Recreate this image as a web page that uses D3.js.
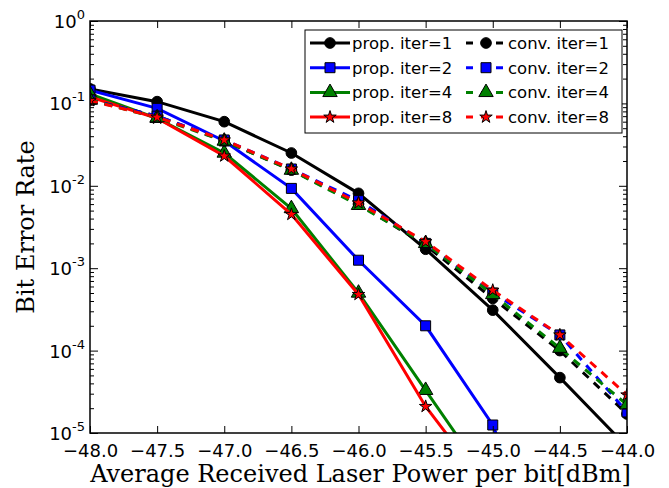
<!DOCTYPE html>
<html lang="en">
<head>
<meta charset="utf-8" />
<title>ber chart</title>
<script src="https://d3js.org/d3.v7.min.js"></script>
<style>
  body { margin: 0; background: #fff; }
  .tick-lbl { font-family: "DejaVu Sans", sans-serif; font-size: 18px; fill: #000; }
  .ax-title { font-family: "DejaVu Serif", serif; font-size: 24px; fill: #000; }
  .leg { font-family: "DejaVu Sans", sans-serif; font-size: 16.5px; fill: #000; }
</style>
</head>
<body>
<div id="myDiv"></div>
<script>
// received power (dBm)
var power = [-48, -47.5, -47, -46.5, -46, -45.5, -45, -44.5, -44];

// proposed decoder, BER per iteration count
var prop1 = [0.15, 0.105, 0.06, 0.025, 0.0081, 0.0017, 3.1e-4, 4.7e-5, 6.8e-6];
var prop2 = [0.145, 0.087, 0.035, 0.0093, 1.25e-3, 2.0e-4, 1.25e-5, 1e-7, 1e-8];
var prop4 = [0.13, 0.066, 0.025, 0.0053, 5.0e-4, 3.3e-5, 2.2e-6, 1e-7, 1e-8];
var prop8 = [0.12, 0.066, 0.023, 0.0045, 4.8e-4, 2.1e-5, 1.8e-6, 1e-7, 1e-8];

// conventional decoder
var conv1 = [0.11, 0.07, 0.035, 0.0155, 0.006, 0.0019, 4.3e-4, 1.0e-4, 1.7e-5];
var conv2 = [0.11, 0.07, 0.036, 0.016, 0.0066, 0.002, 5.0e-4, 1.55e-4, 1.8e-5];
var conv4 = [0.11, 0.067, 0.035, 0.0155, 0.0058, 0.002, 4.8e-4, 1.07e-4, 2.2e-5];
var conv8 = [0.108, 0.068, 0.036, 0.016, 0.0062, 0.0021, 5.4e-4, 1.55e-4, 2.9e-5];

var xTicks = [-48, -47.5, -47, -46.5, -46, -45.5, -45, -44.5, -44];
var yTicks = [1e-5, 1e-4, 1e-3, 1e-2, 1e-1, 1];

var series = [
  {name: "prop. iter=1", vals: prop1, color: "#000000", dash: null, mark: "circle"},
  {name: "prop. iter=2", vals: prop2, color: "#0000ff", dash: null, mark: "square"},
  {name: "prop. iter=4", vals: prop4, color: "#008000", dash: null, mark: "triangle"},
  {name: "prop. iter=8", vals: prop8, color: "#ff0000", dash: null, mark: "star"},
  {name: "conv. iter=1", vals: conv1, color: "#000000", dash: "8,7", mark: "circle"},
  {name: "conv. iter=2", vals: conv2, color: "#0000ff", dash: "8,7", mark: "square"},
  {name: "conv. iter=4", vals: conv4, color: "#008000", dash: "8,7", mark: "triangle"},
  {name: "conv. iter=8", vals: conv8, color: "#ff0000", dash: "8,7", mark: "star"}
];

var W = 669, H = 488;
// plot box (window.top is taken, so use pTop etc.)
var pLeft = 90, pRight = 627, pTop = 21, pBottom = 433;

var xScale = d3.scaleLinear().domain([-48, -44]).range([pLeft, pRight]);
var yScale = d3.scaleLog().domain([1e-5, 1]).range([pBottom, pTop]);

var svg = d3.select("#myDiv").append("svg")
    .attr("width", W)
    .attr("height", H);

svg.append("defs").append("clipPath").attr("id", "plotClip")
  .append("rect")
    .attr("x", pLeft).attr("y", pTop)
    .attr("width", pRight - pLeft).attr("height", pBottom - pTop);

// marker shapes
function symbolFor(m) {
  if (m == "circle") return d3.symbol().type(d3.symbolCircle).size(90)();
  if (m == "square") return d3.symbol().type(d3.symbolSquare).size(100)();
  if (m == "triangle") return d3.symbol().type(d3.symbolTriangle).size(90)();
  return d3.symbol().type(d3.symbolStar).size(48)();
}

var line = d3.line()
    .x(function(d, i){ return xScale(power[i]); })
    .y(function(d){ return yScale(d); });

var plot = svg.append("g").attr("clip-path", "url(#plotClip)");

series.forEach(function(s){
  var g = plot.append("g");
  g.append("path")
      .attr("d", line(s.vals))
      .attr("fill", "none")
      .attr("stroke", s.color)
      .attr("stroke-width", 3)
      .attr("stroke-dasharray", s.dash);
  g.selectAll("path.mk")
      .data(s.vals)
      .enter()
      .append("path")
      .attr("class", "mk")
      .attr("d", symbolFor(s.mark))
      .attr("transform", function(d, i){
        return "translate(" + xScale(power[i]) + "," + yScale(d) + ")";
      })
      .attr("fill", s.color)
      .attr("stroke", "#000")
      .attr("stroke-width", 1);
});

// frame
svg.append("rect")
    .attr("x", pLeft).attr("y", pTop)
    .attr("width", pRight - pLeft).attr("height", pBottom - pTop)
    .attr("fill", "none")
    .attr("stroke", "#000")
    .attr("stroke-width", 1.5);

// x axis: inward ticks top and bottom
var xAxisB = d3.axisBottom(xScale).tickValues(xTicks).tickSize(-7).tickPadding(11)
    .tickFormat(function(d){ return d3.format(".1f")(d).replace("-", "\u2212"); });
var gx = svg.append("g").attr("transform", "translate(0," + pBottom + ")").call(xAxisB);
gx.select(".domain").remove();
gx.selectAll("text").attr("class", "tick-lbl").attr("font-size", null).attr("font-family", null);

var xAxisT = d3.axisTop(xScale).tickValues(xTicks).tickSize(-7).tickFormat("");
var gxt = svg.append("g").attr("transform", "translate(0," + pTop + ")").call(xAxisT);
gxt.select(".domain").remove();

// y axis: majors, minors on both sides
var minors = [];
yTicks.slice(0, -1).forEach(function(t){
  for (var k = 2; k <= 9; k++) minors.push(t * k);
});

var gy = svg.append("g").attr("transform", "translate(" + pLeft + ",0)")
    .call(d3.axisLeft(yScale).tickValues(yTicks).tickSize(-8).tickFormat(""));
gy.select(".domain").remove();
var gyMin = svg.append("g").attr("transform", "translate(" + pLeft + ",0)")
    .call(d3.axisLeft(yScale).tickValues(minors).tickSize(-4).tickFormat(""));
gyMin.select(".domain").remove();

var gyR = svg.append("g").attr("transform", "translate(" + pRight + ",0)")
    .call(d3.axisRight(yScale).tickValues(yTicks).tickSize(-8).tickFormat(""));
gyR.select(".domain").remove();
var gyRMin = svg.append("g").attr("transform", "translate(" + pRight + ",0)")
    .call(d3.axisRight(yScale).tickValues(minors).tickSize(-4).tickFormat(""));
gyRMin.select(".domain").remove();

svg.selectAll(".tick line").attr("stroke", "#000").attr("stroke-width", 1);

// y tick labels as 10^n
var ylab = svg.append("g");
yTicks.forEach(function(t){
  var e = Math.round(Math.log10(t));
  var txt = ylab.append("text")
      .attr("class", "tick-lbl")
      .attr("x", pLeft - 5)
      .attr("y", yScale(t) + 7)
      .attr("text-anchor", "end");
  txt.append("tspan").text("10");
  txt.append("tspan")
      .attr("dy", -9)
      .attr("font-size", "13px")
      .text(e == 0 ? "0" : "-" + Math.abs(e));
});

// axis titles
svg.append("text")
    .attr("class", "ax-title")
    .attr("x", (pLeft + pRight) / 2 + 2)
    .attr("y", 482)
    .attr("text-anchor", "middle")
    .text("Average Received Laser Power per bit[dBm]");

svg.append("text")
    .attr("class", "ax-title")
    .attr("transform", "translate(34," + ((pTop + pBottom) / 2) + ") rotate(-90)")
    .attr("text-anchor", "middle")
    .text("Bit Error Rate");

// legend, two columns
var leg = svg.append("g");
leg.append("rect")
    .attr("x", 305).attr("y", 30)
    .attr("width", 317).attr("height", 103)
    .attr("fill", "#fff")
    .attr("stroke", "#000")
    .attr("stroke-width", 1);

series.forEach(function(s, i){
  var col = Math.floor(i / 4), row = i % 4;
  var x0 = col == 0 ? 310 : 466;
  var y0 = 43 + row * 24.7;
  leg.append("line")
      .attr("x1", x0).attr("x2", x0 + 40)
      .attr("y1", y0).attr("y2", y0)
      .attr("stroke", s.color)
      .attr("stroke-width", 3)
      .attr("stroke-dasharray", s.dash ? "7,8" : null);
  leg.append("path")
      .attr("d", symbolFor(s.mark))
      .attr("transform", "translate(" + (x0 + 20) + "," + y0 + ")")
      .attr("fill", s.color)
      .attr("stroke", "#000")
      .attr("stroke-width", 1);
  leg.append("text")
      .attr("class", "leg")
      .attr("x", x0 + 42)
      .attr("y", y0 + 6)
      .text(s.name);
});
</script>
</body>
</html>
